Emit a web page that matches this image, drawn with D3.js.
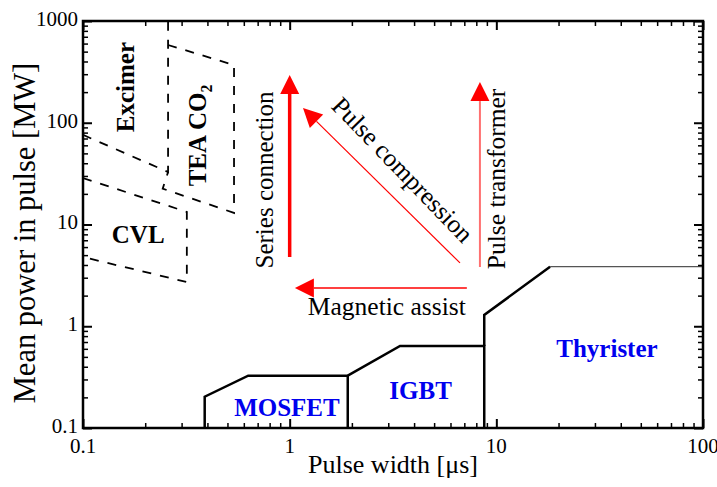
<!DOCTYPE html>
<html>
<head>
<meta charset="utf-8">
<script src="https://cdn.jsdelivr.net/npm/d3@7"></script>
<style>
  body { margin: 0; background: #fff; }
  svg text { font-family: "Liberation Serif", "Times New Roman", serif; }
</style>
</head>
<body>
<div id="chart"></div>
<script>
// axes
const xTickValues = [0.1, 1, 10, 100];
const xTickLabels = ["0.1", "1", "10", "100"];
const yTickValues = [0.1, 1, 10, 100, 1000];
const yTickLabels = ["0.1", "1", "10", "100", "1000"];

// switch regions (solid outline), [pulse width us, power MW]
const mosfetLine = [[0.388, 0.1], [0.388, 0.203], [0.63, 0.327], [1.91, 0.327], [1.91, 0.1]];
const igbtLine = [[1.91, 0.327], [3.42, 0.64], [8.74, 0.64], [8.74, 0.1]];
const thyristerLine = [[8.74, 0.64], [8.74, 1.29], [18.2, 3.85]];
const thyristerTop = [[18.2, 3.85], [100, 3.85]];

// laser regions (dashed)
const excimerLine = [[0.1, 76], [0.258, 32.8], [0.258, 1000]];
const teaLine = [[0.258, 581], [0.538, 369], [0.538, 13.0], [0.243, 22.5], [0.258, 32.8]];
const cvlLine = [[0.1, 28.6], [0.318, 13.3], [0.318, 2.72], [0.1, 4.79]];

// arrows: from -> to
const arrows = [
  { name: "series", from: [1.0, 4.8], to: [1.0, 295], w: 3.5, color: "#ff0000" },
  { name: "compression", from: [6.67, 4.19], to: [1.16, 139.6], w: 1.2, color: "#ff0000" },
  { name: "transformer", from: [8.33, 3.82], to: [8.33, 251], w: 2, color: "#ff7070" },
  { name: "magnetic", from: [7.2, 2.38], to: [1.06, 2.38], w: 1.5, color: "#ff0000" }
];

const regionLabels = [
  { text: "MOSFET", x: 0.97, y: 0.148 },
  { text: "IGBT", x: 4.3, y: 0.221 },
  { text: "Thyrister", x: 34.3, y: 0.571 }
];

const width = 717, height = 487;
const margin = { top: 21, right: 14, bottom: 59, left: 83 };
const w = width - margin.left - margin.right;
const h = height - margin.top - margin.bottom;

const svg = d3.select("#chart").append("svg")
  .attr("width", width).attr("height", height);

const g = svg.append("g").attr("transform", `translate(${margin.left},${margin.top})`);

const x = d3.scaleLog().domain([0.1, 100]).range([0, w]);
const y = d3.scaleLog().domain([0.1, 1000]).range([h, 0]);

function minorTicks(lo, hi) {
  const out = [];
  for (let d = lo; d < hi; d *= 10) {
    for (let k = 2; k <= 9; k++) out.push(d * k);
  }
  return out;
}
const xMinor = minorTicks(0.1, 100);
const yMinor = minorTicks(0.1, 1000);

const line = d3.line().x(d => x(d[0])).y(d => y(d[1]));

// clip for plot content
svg.append("defs").append("clipPath").attr("id", "plotclip")
  .append("rect").attr("width", w).attr("height", h);
const plot = g.append("g").attr("clip-path", "url(#plotclip)");

// solid regions
[mosfetLine, igbtLine, thyristerLine].forEach(pts => {
  plot.append("path").attr("d", line(pts))
    .attr("fill", "none").attr("stroke", "#000").attr("stroke-width", 2.5)
    .attr("stroke-linejoin", "miter");
});
plot.append("path").attr("d", line(thyristerTop))
  .attr("fill", "none").attr("stroke", "#555").attr("stroke-width", 1.2);

// dashed regions
[excimerLine, teaLine, cvlLine].forEach(pts => {
  plot.append("path").attr("d", line(pts))
    .attr("fill", "none").attr("stroke", "#000").attr("stroke-width", 1.8)
    .attr("stroke-dasharray", "9,9");
});

// arrows
arrows.forEach(a => {
  const x0 = x(a.from[0]), y0 = y(a.from[1]);
  const x1 = x(a.to[0]), y1 = y(a.to[1]);
  const ang = Math.atan2(y1 - y0, x1 - x0);
  const headLen = 19, headW = 9.5;
  const bx = x1 - headLen * Math.cos(ang), by = y1 - headLen * Math.sin(ang);
  plot.append("line")
    .attr("x1", x0).attr("y1", y0).attr("x2", bx).attr("y2", by)
    .attr("stroke", a.color).attr("stroke-width", a.w);
  const px = -Math.sin(ang), py = Math.cos(ang);
  plot.append("path")
    .attr("d", `M${x1},${y1}L${bx + px * headW},${by + py * headW}L${bx - px * headW},${by - py * headW}Z`)
    .attr("fill", "#ff0000");
});

// arrow labels
g.append("text").text("Series connection")
  .attr("transform", `translate(${x(1) - 22},${y(30) + 4}) rotate(-90)`)
  .attr("text-anchor", "middle").attr("dominant-baseline", "middle")
  .style("font-size", "25px");
g.append("text").text("Pulse transformer")
  .attr("transform", `translate(${x(8.33) + 19},${y(30) + 3}) rotate(-90)`)
  .attr("text-anchor", "middle").attr("dominant-baseline", "middle")
  .style("font-size", "25.5px");
g.append("text").text("Pulse compression")
  .attr("transform", `translate(${x(3.05) + 11},${y(27) - 9}) rotate(46)`)
  .attr("text-anchor", "middle").attr("dominant-baseline", "middle")
  .style("font-size", "25.5px");
g.append("text").text("Magnetic assist")
  .attr("x", x(2.67) + 9).attr("y", y(2.38) + 21)
  .attr("text-anchor", "middle").attr("dominant-baseline", "middle")
  .style("font-size", "25.5px");

// laser labels
g.append("text").text("Excimer")
  .attr("transform", `translate(${x(0.165)},${y(224)}) rotate(-90)`)
  .attr("text-anchor", "middle").attr("dominant-baseline", "middle")
  .style("font-size", "25px").style("font-weight", "bold");
const tea = g.append("text")
  .attr("transform", `translate(${x(0.37)},${y(75)}) rotate(-90)`)
  .attr("text-anchor", "middle").attr("dominant-baseline", "middle")
  .style("font-size", "25px").style("font-weight", "bold");
tea.append("tspan").text("TEA CO");
tea.append("tspan").text("2").attr("dy", 8).style("font-size", "16px");
g.append("text").text("CVL")
  .attr("x", x(0.185)).attr("y", y(7.5))
  .attr("text-anchor", "middle").attr("dominant-baseline", "middle")
  .style("font-size", "25px").style("font-weight", "bold");

regionLabels.forEach(d => {
  g.append("text").text(d.text)
    .attr("x", x(d.x)).attr("y", y(d.y))
    .attr("text-anchor", "middle").attr("dominant-baseline", "middle")
    .attr("fill", "#0000ee")
    .style("font-size", "25px").style("font-weight", "bold");
});

// frame ticks, pointing inward on all four sides
function tickAxes(axisFn, scale, major, minor, transform) {
  g.append("g").attr("transform", transform)
    .call(axisFn(scale).tickValues(minor).tickSize(-5).tickFormat(""))
    .call(s => s.select(".domain").remove())
    .selectAll("line").attr("stroke-width", 1.5);
  g.append("g").attr("transform", transform)
    .call(axisFn(scale).tickValues(major).tickSize(-9).tickFormat(""))
    .call(s => s.select(".domain").remove())
    .selectAll("line").attr("stroke-width", 2);
}
tickAxes(d3.axisBottom, x, xTickValues, xMinor, `translate(0,${h})`);
tickAxes(d3.axisTop, x, xTickValues, xMinor, "translate(0,0)");
tickAxes(d3.axisLeft, y, yTickValues, yMinor, "translate(0,0)");
tickAxes(d3.axisRight, y, yTickValues, yMinor, `translate(${w},0)`);

g.append("rect").attr("width", w).attr("height", h)
  .attr("fill", "none").attr("stroke", "#000").attr("stroke-width", 2.5);

// tick labels
g.selectAll(".xlab").data(xTickValues).enter().append("text")
  .attr("class", "xlab")
  .attr("x", d => x(d)).attr("y", h + 20)
  .attr("text-anchor", "middle").attr("dominant-baseline", "middle")
  .style("font-size", "21px")
  .text((d, i) => xTickLabels[i]);
g.selectAll(".ylab").data(yTickValues).enter().append("text")
  .attr("class", "ylab")
  .attr("x", -5).attr("y", d => y(d))
  .attr("text-anchor", "end").attr("dominant-baseline", "middle")
  .style("font-size", "21px")
  .text((d, i) => yTickLabels[i]);

// axis titles
g.append("text").text("Pulse width [\u03bcs]")
  .attr("x", w / 2).attr("y", h + 39)
  .attr("text-anchor", "middle").attr("dominant-baseline", "middle")
  .style("font-size", "26px");
g.append("text").text("Mean power in pulse [MW]")
  .attr("transform", `translate(${-55},${212}) rotate(-90)`)
  .attr("text-anchor", "middle").attr("dominant-baseline", "middle")
  .style("font-size", "30.5px");
</script>
</body>
</html>
